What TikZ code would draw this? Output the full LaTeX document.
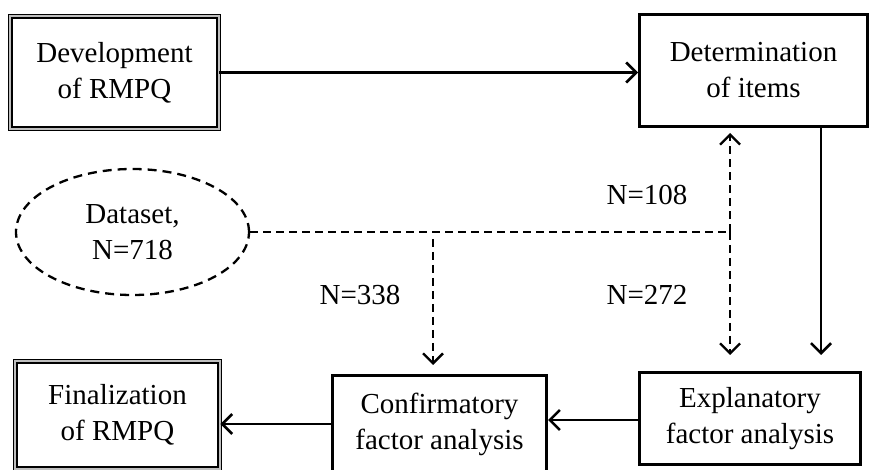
\documentclass[tikz,border=0pt]{standalone}
\usepackage{fontspec}
\setmainfont{Liberation Serif}
\usetikzlibrary{arrows.meta,%
                shapes.geometric}

\begin{document}
\begin{tikzpicture}[x=1pt, y=-1pt, >={Straight Barb[length=10pt,width=20pt]}]
  \tikzstyle{every node} = [font = \fontsize{29}{36}\selectfont,
                            align = center,
                            inner sep = 0]
  \tikzstyle{stage} = [draw, line width = 2.6pt]
  \tikzstyle{endstage} = [draw, line width = 1.4pt, double = gray!50, double distance = 1.8pt]
  \tikzstyle{flow} = [line width = 2.6pt]
  \tikzstyle{sample} = [line width = 2.3pt, dash pattern = on 8pt off 5pt]
\useasboundingbox (0,0) rectangle (871,470);

% stages
\node[endstage, minimum width = 208.4, minimum height = 112.4] (dev) at (114.5,72.5) {Development\\of RMPQ};
\node[stage, minimum width = 228.4, minimum height = 112.4] (det) at (753.5,70.5) {Determination\\of items};
\node[stage, minimum width = 221.4, minimum height = 92.4] (efa) at (750,418.5) {Explanatory\\factor analysis};
\node[stage, minimum width = 214.4, minimum height = 97.4] (cfa) at (439.5,424) {Confirmatory\\factor analysis};
\node[endstage, minimum width = 204.4, minimum height = 107.4] (fin) at (117.5,415) {Finalization\\of RMPQ};

% dataset and its split
\node[draw, ellipse, line width = 2.3pt, dash pattern = on 9pt off 6pt,
      minimum width = 233, minimum height = 126] (data) at (132.5,232) {Dataset,\\N=718};
\coordinate (split) at (730,232);
\coordinate (fork) at (433,239);

\node (n108) at (647,195) {N=108};
\node (n272) at (647,295) {N=272};
\node (n338) at (360,295) {N=338};

\draw[flow, ->] (dev.east) -- (dev.east -| det.west);
\draw[flow, ->, shorten >= 16pt] ([xshift=67.5pt]det.south) -- ([xshift=71pt]efa.north);
\draw[flow, ->] (efa.west) ++(0,1.5) -- (cfa.east |- 0,420);
\draw[flow, ->] (cfa.west) -- (cfa.west -| fin.east);

\draw[sample] (data.east) -- (split);
\draw[sample, ->, shorten >= 5pt] (split) -- (split |- det.south);
\draw[sample, ->, shorten >= 16pt] (split) -- (split |- efa.north);
\draw[sample, ->, shorten >= 9pt] (fork) -- (fork |- cfa.north);

\end{tikzpicture}
\end{document}
